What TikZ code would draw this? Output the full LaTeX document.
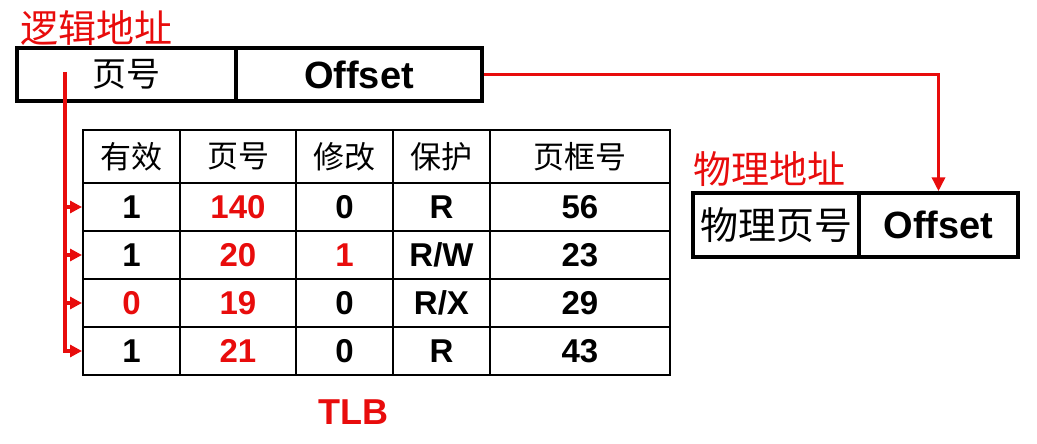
\documentclass[tikz,border=0pt]{standalone}
\usepackage{fontspec}
\setmainfont{Liberation Sans}
\newfontfamily\cjk{Noto Sans CJK SC}
\usetikzlibrary{arrows.meta}
\definecolor{tlbred}{RGB}{232,12,12}

\begin{document}
\begin{tikzpicture}[
  x=1pt, y=-1pt,
  cell/.style={draw=black, rectangle, line width=2pt, inner sep=0pt,
               minimum height=48pt, font=\bfseries\fontsize{33}{33}\selectfont},
  head/.style={cell, minimum height=53pt, font=\cjk\fontsize{31}{31}\selectfont},
  colv/.style={minimum width=97pt},
  colp/.style={minimum width=116pt},
  colm/.style={minimum width=97pt},
  colr/.style={minimum width=97pt},
  colf/.style={minimum width=180pt},
  hot/.style={text=tlbred},
  field/.style={draw=black, rectangle, line width=3.5pt, inner sep=0pt},
  cn/.style={font=\cjk\fontsize{#1}{#1}\selectfont},
  en/.style={font=\bfseries\fontsize{38}{38}\selectfont},
  title/.style={text=tlbred, font=\cjk\fontsize{38}{38}\selectfont, inner sep=0pt},
  redline/.style={draw=tlbred, line width=3.5pt},
  redarrow/.style={redline, -{Triangle[length=14pt, width=13pt]}},
  tap/.style={redline, -{Triangle[length=12pt, width=12pt]}},
]
  \useasboundingbox (0,0) rectangle (1037,444);

  \node[title] (laddr) at (96,28) {逻辑地址};
  \node[field, cn=34, minimum width=219pt, minimum height=53pt] (lpage) at (126.5,74.5) {页号};
  \node[field, en, minimum width=246pt, minimum height=53pt] (loffset) at (359,74.5) {Offset};

  \node[title] (paddr) at (769,169) {物理地址};
  \node[field, cn=38, minimum width=166pt, minimum height=64pt] (ppage) at (776,225) {物理页号};
  \node[field, en, minimum width=159pt, minimum height=64pt] (poffset) at (938.5,225) {Offset};

  \node[head, colv] (hv) at (131.5,156.5) {有效};
  \node[head, colp] (hp) at (238,156.5) {页号};
  \node[head, colm] (hm) at (344.5,156.5) {修改};
  \node[head, colr] (hr) at (441.5,156.5) {保护};
  \node[head, colf] (hf) at (580,156.5) {页框号};

  \node[cell, colv] (v1) at (131.5,207) {1};
  \node[cell, colp, hot] (p1) at (238,207) {140};
  \node[cell, colm] (m1) at (344.5,207) {0};
  \node[cell, colr] (r1) at (441.5,207) {R};
  \node[cell, colf] (f1) at (580,207) {56};

  \node[cell, colv] (v2) at (131.5,255) {1};
  \node[cell, colp, hot] (p2) at (238,255) {20};
  \node[cell, colm, hot] (m2) at (344.5,255) {1};
  \node[cell, colr] (r2) at (441.5,255) {R/W};
  \node[cell, colf] (f2) at (580,255) {23};

  \node[cell, colv, hot] (v3) at (131.5,303) {0};
  \node[cell, colp, hot] (p3) at (238,303) {19};
  \node[cell, colm] (m3) at (344.5,303) {0};
  \node[cell, colr] (r3) at (441.5,303) {R/X};
  \node[cell, colf] (f3) at (580,303) {29};

  \node[cell, colv] (v4) at (131.5,351) {1};
  \node[cell, colp, hot] (p4) at (238,351) {21};
  \node[cell, colm] (m4) at (344.5,351) {0};
  \node[cell, colr] (r4) at (441.5,351) {R};
  \node[cell, colf] (f4) at (580,351) {43};

  \node[text=tlbred, font=\bfseries\fontsize{36}{36}\selectfont] (tlb) at (353,412) {TLB};

  \coordinate (src) at (65,72);
  \draw[tap] (src) |- (v4.west);
  \draw[tap] (src |- v1.west) -- (v1.west);
  \draw[tap] (src |- v2.west) -- (v2.west);
  \draw[tap] (src |- v3.west) -- (v3.west);

  \draw[redarrow] (loffset.east) -| (poffset.north);
\end{tikzpicture}
\end{document}
